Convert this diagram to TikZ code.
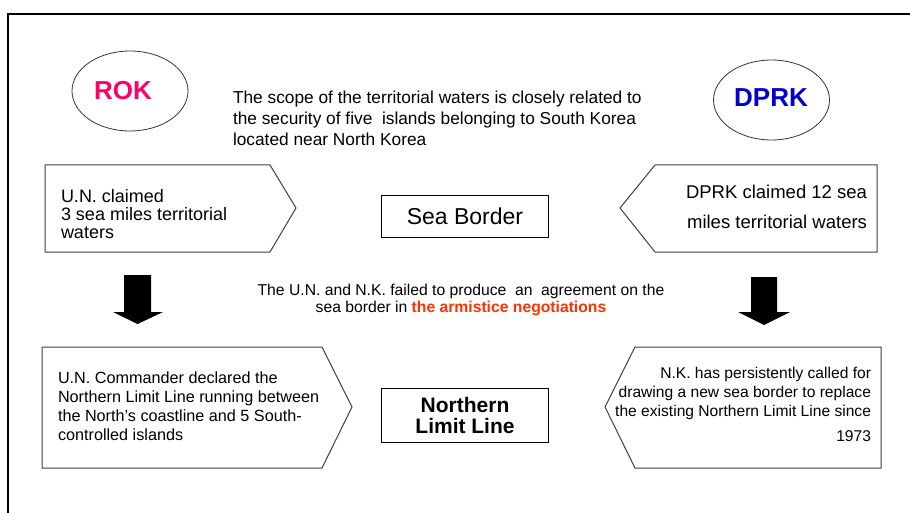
\documentclass[tikz,border=0pt]{standalone}
\usepackage{fontspec}
\setmainfont{Liberation Sans}
\usetikzlibrary{shapes.geometric}
\definecolor{rokpink}{HTML}{FF0066}
\definecolor{dprkblue}{HTML}{0000CC}
\definecolor{armred}{HTML}{FF3300}
\definecolor{edgegray}{HTML}{404040}
\tikzset{
  pent/.style={draw=edgegray, line width=1pt, fill=white},
  oval/.style={ellipse, draw=black!80, line width=0.8pt, minimum width=116pt, minimum height=80pt, inner sep=0pt},
  titlebox/.style={draw=black, line width=1pt, inner sep=0pt},
  txt/.style={inner sep=0pt, outer sep=0pt},
  blockarrow/.style={fill=black, draw=none}
}
\begin{document}
\begin{tikzpicture}[x=1pt,y=-1pt]
\useasboundingbox (0,0) rectangle (910,513);
\fill[white] (0,0) rectangle (910,513);
% frame
\draw[line width=2pt] (8,530) -- (8,14) -- (930,14);

% ellipses
\node[oval] (rok) at (130,91) {};
\node[txt, font=\bfseries\fontsize{26}{26}\selectfont, text=rokpink] (roklbl) at (123,91) {ROK};
\node[oval] (dprk) at (771.5,100) {};
\node[txt, font=\bfseries\fontsize{26}{26}\selectfont, text=dprkblue] (dprklbl) at (771,98) {DPRK};

% top paragraph
\node[txt, anchor=north west, align=left, font=\fontsize{17.3}{21}\selectfont] (scope) at (233,90.5)
{The scope of the territorial waters is closely related to\\
the security of five\ \ islands belonging to South Korea\\
located near North Korea};

% first row
\path[pent] (45,165) -- (270,165) -- (296,208) -- (270,252) -- (45,252) -- cycle;
\node[txt, anchor=north west, align=left, font=\fontsize{18}{18}\selectfont] (unclaim) at (61,189)
{U.N. claimed\\3 sea miles territorial\\waters};

\node[titlebox, minimum width=167pt, minimum height=41pt, font=\fontsize{23}{23}\selectfont] (sea) at (465,216.5) {Sea Border};

\path[pent] (620,208) -- (655,165) -- (877,165) -- (877,252) -- (655,252) -- cycle;
\node[txt, anchor=north east, align=right, font=\fontsize{18.5}{30}\selectfont] (dprkclaim) at (867,185)
{DPRK claimed 12 sea\\miles territorial waters};

% block arrows
\path[blockarrow] (124,275) -- (151,275) -- (151,312) -- (163,312) -- (137.5,324) -- (113,312) -- (124,312) -- cycle;
\path[blockarrow] (751,277) -- (777,277) -- (777,312) -- (790,312) -- (764,325) -- (738,312) -- (751,312) -- cycle;

% middle text
\node[txt, anchor=north, align=center, font=\fontsize{15.7}{17}\selectfont] (fail) at (461,284.2)
{The U.N. and N.K. failed to produce\ \ an\ \ agreement on the\\
sea border in {\bfseries\color{armred}the armistice negotiations}};

% second row
\path[pent] (42,347) -- (322,347) -- (352,407) -- (322,468) -- (42,468) -- cycle;
\node[txt, anchor=north west, align=left, font=\fontsize{16.2}{19}\selectfont] (uncmd) at (58,372)
{U.N. Commander declared the\\
Northern Limit Line running between\\
the North's coastline and 5 South-\\
controlled islands};

\node[titlebox, minimum width=167pt, minimum height=54pt, align=center, font=\bfseries\fontsize{21}{21}\selectfont] (nll) at (465,415) {Northern\\Limit Line};

\path[pent] (605,407) -- (635,347) -- (881,347) -- (881,468) -- (635,468) -- cycle;
\node[txt, anchor=north east, align=right, font=\fontsize{15.6}{19}\selectfont] (nkcall) at (871,367.5)
{N.K. has persistently called for\\
drawing a new sea border to replace\\
the existing Northern Limit Line since\\[6pt]
1973};
\end{tikzpicture}
\end{document}
